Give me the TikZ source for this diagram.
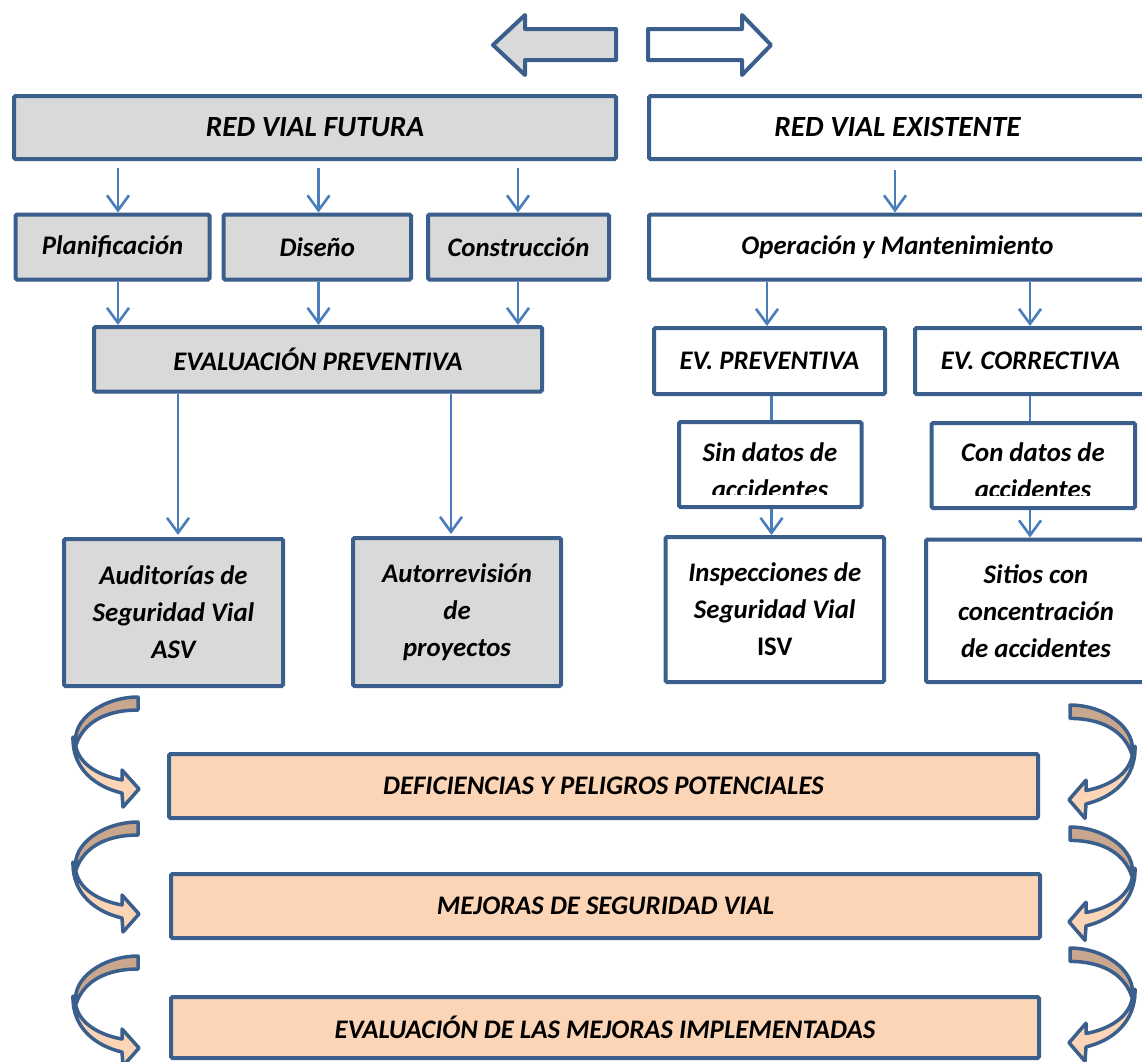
\documentclass[tikz,border=0pt]{standalone}
\usepackage{fontspec}
\setmainfont{Carlito}
\usetikzlibrary{arrows.meta}
\definecolor{bord}{HTML}{3A5F8C}
\definecolor{lnk}{HTML}{4A7EBB}
\definecolor{gfill}{HTML}{D9D9D9}
\definecolor{ofill}{HTML}{FBD5B5}
\definecolor{tanfill}{HTML}{C9A78E}
\newcommand\mkbox[7]{%
  \pgfmathsetmacro\bw{#5-#3}\pgfmathsetmacro\bh{#6-#4}%
  \pgfmathsetmacro\bcx{(#3+#5)/2}\pgfmathsetmacro\bcy{(#4+#6)/2}%
  \node[#1, minimum width=\bw pt, minimum height=\bh pt] (#2) at (\bcx,\bcy) {#7};}
\begin{document}
\begin{tikzpicture}[x=1pt,y=-1pt,
  box/.style={draw=bord, line width=4pt, rounded corners=1.5pt, align=center, inner sep=0pt,
    font=\fontsize{26.8}{37}\selectfont\bfseries\itshape},
  hbox/.style={box, font=\fontsize{29.3}{37}\selectfont\bfseries\itshape},
  gbox/.style={box, fill=gfill},
  wbox/.style={box, fill=white},
  obox/.style={box, fill=ofill},
  txt/.style={align=center, inner sep=0pt, font=\fontsize{26.8}{37}\selectfont\bfseries\itshape},
  conn/.style={draw=lnk, line width=2.6pt},
  arr/.style={conn, -{Straight Barb[length=15pt,width=22pt]}},
  shapeline/.style={draw=bord, line width=4pt, line join=round},
  cband/.style={draw=bord, line width=3.5pt, line join=round},
  curvL/.pic={
    \draw[cband, fill=tanfill] (68,0) -- (68,13) .. controls (38,13) and (14,24) .. (6,48)
        .. controls (1,22) and (34,0) .. (68,0) -- cycle;
    \draw[cband, fill=ofill] (3,40) .. controls (2,72) and (26,90) .. (52,96) -- (53,110) -- (69,92)
        -- (52,73) -- (52,83) .. controls (30,79) and (10,68) .. (6,50) -- cycle;
  }
]
\useasboundingbox (0,0) rectangle (1142,1061);

% top double arrows
\draw[shapeline, fill=gfill] (493,45) -- (525,15) -- (525,29) -- (616,29) -- (616,60) -- (525,60) -- (525,75) -- cycle;
\draw[shapeline, fill=white] (648,29) -- (742,29) -- (742,15) -- (771,45) -- (742,75) -- (742,60) -- (648,60) -- cycle;

% boxes
\mkbox{gbox,hbox,fill=gfill}{futura}{14}{96}{616}{159}{RED VIAL FUTURA}
\mkbox{wbox,hbox,fill=white}{existente}{649}{96}{1146}{159}{RED VIAL EXISTENTE}
\mkbox{gbox}{plan}{15.5}{214.5}{209.5}{279.5}{Planificación}
\mkbox{gbox}{dis}{223.5}{214.5}{411}{279.5}{Diseño}
\mkbox{gbox}{cons}{428}{214.5}{609}{279.5}{Construcción}
\mkbox{wbox}{oper}{649}{214.5}{1146}{279.5}{Operación y Mantenimiento}
\mkbox{gbox}{evp}{94}{327}{542}{391.5}{EVALUACIÓN PREVENTIVA}
\mkbox{wbox}{evprev}{654}{328}{885}{394}{EV. PREVENTIVA}
\mkbox{wbox}{evcorr}{915}{328}{1146}{394}{EV. CORRECTIVA}
\mkbox{wbox}{sin}{679}{422}{861.5}{507}{}
\mkbox{wbox}{con}{931.5}{423}{1135}{508}{}
\mkbox{gbox}{aud}{64}{539}{283}{686}{Auditorías de\\Seguridad Vial\\ASV}
\mkbox{gbox}{auto}{353}{538}{561}{686}{Autorrevisión\\de\\proyectos}
\mkbox{wbox}{insp}{665.5}{537}{884}{682}{Inspecciones de\\Seguridad Vial\\{\upshape ISV}}
\mkbox{wbox}{sitios}{926}{539.5}{1146}{682}{Sitios con\\concentración\\de accidentes}
\mkbox{obox}{def}{169}{754}{1038}{818}{DEFICIENCIAS Y PELIGROS POTENCIALES}
\mkbox{obox}{mej}{171}{874}{1040}{938}{MEJORAS DE SEGURIDAD VIAL}
\mkbox{obox}{eva}{171}{997}{1039}{1058}{EVALUACIÓN DE LAS MEJORAS IMPLEMENTADAS}

% clipped texts in the "datos" boxes
\begin{scope}
  \clip ([xshift=2pt]sin.south west) ++(0,-15) rectangle (sin.north east);
  \node[txt] (sintxt) at (770,471) {Sin datos de\\accidentes};
\end{scope}
\begin{scope}
  \clip ([xshift=2pt]con.south west) ++(0,-15) rectangle (con.north east);
  \node[txt] (contxt) at (1033,471) {Con datos de\\accidentes};
\end{scope}

% connector x positions
\coordinate (xa) at (118,0);
\coordinate (xb) at (318.5,0);
\coordinate (xc) at (518,0);
\coordinate (xd) at (895,0);
\coordinate (xe) at (767,0);
\coordinate (xf) at (1030,0);
\coordinate (xg) at (178,0);
\coordinate (xh) at (451,0);
\coordinate (xi) at (771.5,0);

\draw[arr] ([yshift=-7pt]futura.south -| xa) -- (plan.north -| xa);
\draw[arr] ([yshift=-7pt]futura.south -| xb) -- (dis.north -| xb);
\draw[arr] ([yshift=-7pt]futura.south -| xc) -- (cons.north -| xc);
\draw[arr] ([yshift=-9pt]existente.south -| xd) -- (oper.north -| xd);
\draw[arr] (plan.south -| xa) -- (evp.north -| xa);
\draw[arr] (dis.south -| xb) -- (evp.north -| xb);
\draw[arr] (cons.south -| xc) -- (evp.north -| xc);
\draw[arr] (oper.south -| xe) -- (evprev.north -| xe);
\draw[arr] (oper.south -| xf) -- (evcorr.north -| xf);
\draw[arr] (evp.south -| xg) -- ([yshift=2pt]aud.north -| xg);
\draw[arr] (evp.south -| xh) -- ([yshift=2pt]auto.north -| xh);
\draw[conn] (evprev.south -| xi) -- (sin.north -| xi);
\draw[conn] (evcorr.south -| xf) -- (con.north -| xf);
\draw[arr] (sin.south -| xi) -- (insp.north -| xi);
\draw[arr] (con.south -| xf) -- (sitios.north -| xf);

% curved arrows
\pic at (70,697) {curvL};
\pic at (70,822) {curvL};
\pic at (70,956) {curvL};
\pic[xscale=-1, yscale=1.03] at (1138,705) {curvL};
\pic[xscale=-1, yscale=1.03] at (1138,827) {curvL};
\pic[xscale=-1, yscale=1.03] at (1138,948) {curvL};
\end{tikzpicture}
\end{document}
